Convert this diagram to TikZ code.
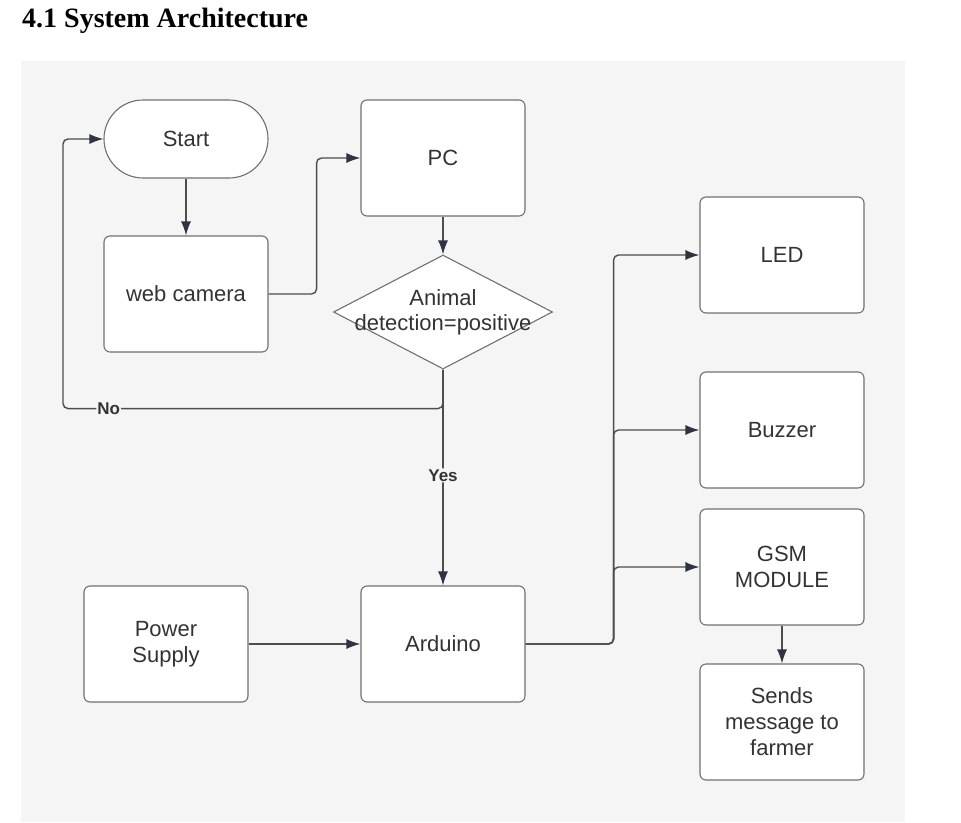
\documentclass[tikz,border=0pt]{standalone}
\usepackage{fontspec}
\setmainfont{Liberation Sans}
\newfontfamily\titlefont{Liberation Serif}
\usetikzlibrary{arrows.meta,shapes.geometric}
\definecolor{bggray}{HTML}{F5F5F5}
\definecolor{linegray}{HTML}{4D4D4D}
\definecolor{boxgray}{HTML}{707070}
\definecolor{tipgray}{HTML}{2E3440}
\definecolor{txtgray}{HTML}{333333}

\begin{document}
\begin{tikzpicture}[x=1pt,y=-1pt,
  box/.style={draw=boxgray,fill=white,line width=1.1pt,rounded corners=6pt,
    minimum width=164pt,minimum height=116pt,align=center,text=txtgray,
    font=\fontsize{22}{26}\selectfont},
  lbl/.style={fill=bggray,inner sep=1pt,text=txtgray,font=\bfseries\fontsize{17}{20}\selectfont},
  arr/.style={draw=linegray,line width=1.4pt,rounded corners=5pt,
    -{Latex[length=14pt,width=10pt,color=tipgray]}}]
\useasboundingbox (0,0) rectangle (961,822);
\fill[white] (0,0) rectangle (961,822);
\fill[bggray] (21,61) rectangle (905,822);

\node[anchor=base west,inner sep=0pt,font=\titlefont\bfseries\fontsize{28}{32}\selectfont] (title) at (22,27) {4.1 System Architecture};

\node[box,rounded corners=39pt,minimum height=78pt] (start) at (186,139) {Start};
\node[box] (pc) at (443,158) {PC};
\node[box] (webcam) at (186,294) {web camera};
\node[draw=boxgray,fill=white,line width=1.1pt,diamond,inner sep=0pt,
  minimum width=219pt,minimum height=114pt,
  label={[align=center,text=txtgray,font=\fontsize{22}{25}\selectfont]center:Animal\\detection=positive}] (detect) at (443,312) {};
\node[box] (power) at (166,644) {Power\\Supply};
\node[box] (arduino) at (443,644) {Arduino};
\node[box] (led) at (782,255) {LED};
\node[box] (buzzer) at (782,430) {Buzzer};
\node[box] (gsm) at (782,567) {GSM\\MODULE};
\node[box] (sends) at (782,722) {Sends\\message to\\farmer};

\path[arr] (start) -- (webcam);
\path[arr] (webcam.east) -- ++(48,0) |- (pc.west);
\path[arr] (pc) -- (detect);
\path[arr] (detect.south) -- ++(0,39) -- node[lbl,pos=0.88]{No} ++(-380,0) |- (start.west);
\path[arr] (detect.south) -- node[lbl,pos=0.49]{Yes} (arduino.north);
\path[arr] (power) -- (arduino);
\path[arr] (arduino.east) -- ++(88,0) |- (led.west);
\path[arr] (arduino.east) -- ++(88,0) |- (buzzer.west);
\path[arr] (arduino.east) -- ++(88,0) |- (gsm.west);
\path[arr] (gsm) -- (sends);
\end{tikzpicture}
\end{document}
